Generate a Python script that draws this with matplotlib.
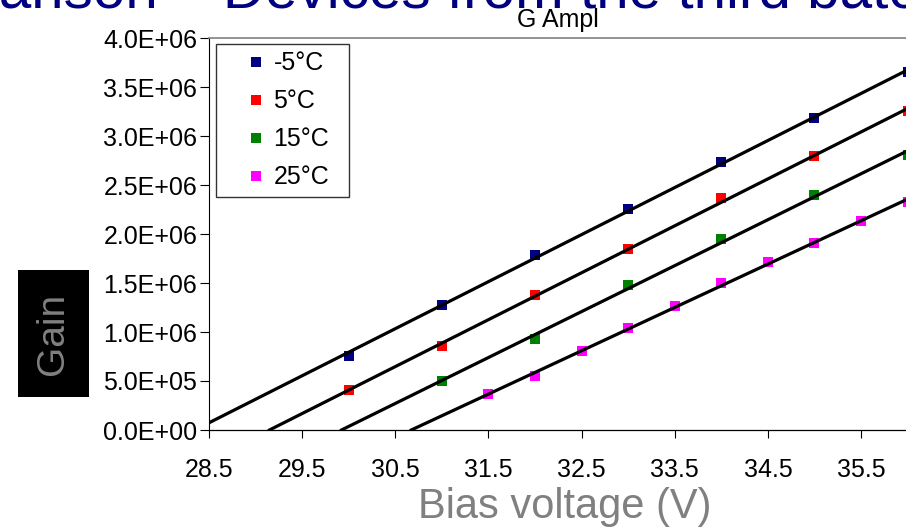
import numpy as np
import matplotlib
matplotlib.use("Agg")
import matplotlib.pyplot as plt
from matplotlib.patches import Rectangle

plt.rcParams['font.family'] = ['Liberation Sans', 'DejaVu Sans']

# gain vs bias voltage, one series per temperature
volts_m5 = [30, 31, 32, 33, 34, 35, 36]
gain_m5 = [0.755e6, 1.276e6, 1.786e6, 2.255e6, 2.735e6, 3.18e6, 3.65e6]

volts_5 = [30, 31, 32, 33, 34, 35, 36]
gain_5 = [0.408e6, 0.857e6, 1.378e6, 1.847e6, 2.367e6, 2.796e6, 3.255e6]

volts_15 = [31, 32, 33, 34, 35, 36]
gain_15 = [0.50e6, 0.929e6, 1.48e6, 1.949e6, 2.398e6, 2.806e6]

volts_25 = [31.5, 32, 32.5, 33, 33.5, 34, 34.5, 35, 35.5, 36]
gain_25 = [0.367e6, 0.551e6, 0.806e6, 1.041e6, 1.265e6, 1.50e6,
           1.714e6, 1.908e6, 2.133e6, 2.327e6]

labels = ["-5°C", "5°C", "15°C", "25°C"]
colors = ["#000080", "#FF0000", "#008000", "#FF00FF"]

x_ticks = [28.5, 29.5, 30.5, 31.5, 32.5, 33.5, 34.5, 35.5]
y_ticks = np.arange(0, 4.0e6 + 1, 0.5e6)

fig = plt.figure(figsize=(9.06, 5.32), dpi=100)
ax = fig.add_axes([209 / 906, 1 - 430 / 532, 698.6 / 906, 392 / 532])

series = [(volts_m5, gain_m5), (volts_5, gain_5),
          (volts_15, gain_15), (volts_25, gain_25)]

for (v, g), lab, col in zip(series, labels, colors):
    ax.plot(v, g, linestyle="none", marker="s", markersize=7.5,
            markerfacecolor=col, markeredgewidth=0, label=lab, zorder=2)
    # linear trendline, from the zero crossing up to the last point
    m, b = np.polyfit(v, g, 1)
    x_fit = np.array([-b / m, 36.5])
    ax.plot(x_fit, m * x_fit + b, color="black", linewidth=2.3, zorder=3)

ax.set_xlim(28.5, 36)
ax.set_ylim(0, 4.0e6)
ax.set_xticks(x_ticks)
ax.set_xticklabels([f"{t:.1f}" for t in x_ticks])
ax.set_yticks(y_ticks)
ax.set_yticklabels([f"{t:.1E}" for t in y_ticks])

ax.tick_params(axis="both", direction="out", labelsize=18, width=0.8)
ax.tick_params(axis="y", length=6.5, pad=2)
ax.tick_params(axis="x", length=6, pad=14)

ax.spines["right"].set_visible(False)
ax.spines["top"].set_color("#808080")
ax.spines["top"].set_linewidth(1.2)
ax.spines["left"].set_linewidth(0.8)
ax.spines["bottom"].set_linewidth(0.9)

ax.set_title("G Ampl", fontsize=18, pad=8)

leg = ax.legend(loc="upper left", bbox_to_anchor=(0.01, 0.5, 0.1904, 0.485),
                mode="expand", borderaxespad=0, fontsize=18, frameon=True,
                fancybox=False, edgecolor="black", borderpad=0.3,
                handlelength=2.6, handletextpad=-0.6, labelspacing=0.56,
                numpoints=1)
leg.get_frame().set_linewidth(1.0)

# axis titles
fig.add_artist(Rectangle((18 / 906, 1 - 397 / 532), 71 / 906, 127 / 532,
                         transform=fig.transFigure, facecolor="black",
                         edgecolor="none"))
fig.text(53 / 906, 1 - 334 / 532, "Gain", rotation=90, fontsize=28,
         color="#808080", ha="center", va="center")
fig.text(565 / 906, 1 - 507 / 532, "Bias voltage (V)", fontsize=30,
         color="#808080", ha="center", va="center")

# slide heading above the chart
fig.text(-157 / 906, 1 - 8 / 532, "Comparison – Devices from the third batch",
         fontsize=42, color="#000080", ha="left", va="baseline")

fig.savefig("out.png", dpi=100)
